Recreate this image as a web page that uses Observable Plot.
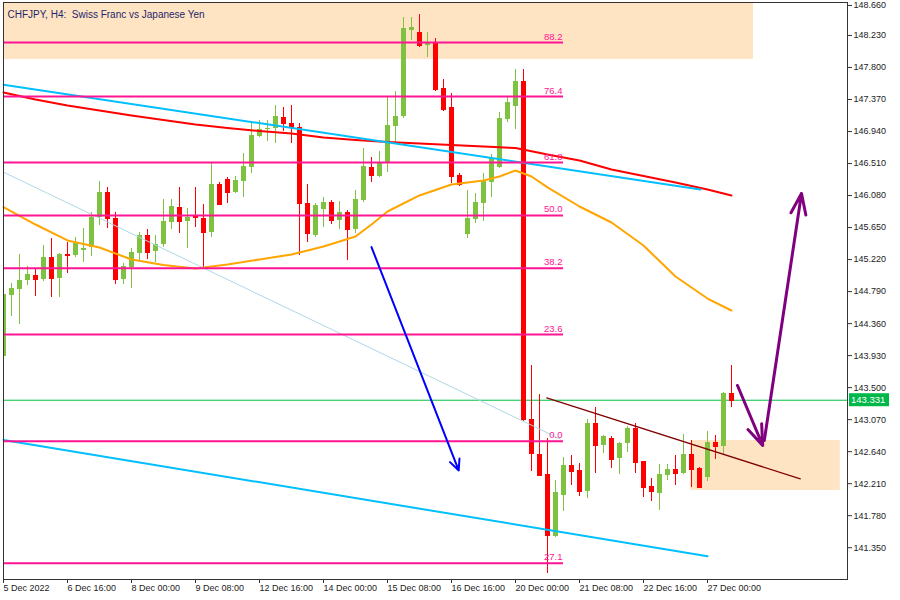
<!DOCTYPE html>
<html><head><meta charset="utf-8">
<script src="https://cdn.jsdelivr.net/npm/d3@7"></script>
<script src="https://cdn.jsdelivr.net/npm/@observablehq/plot@0.6"></script>
<style>
body{margin:0;background:#fff;}
#chart{width:900px;height:600px;}
</style></head><body><div id="chart"></div>
<script>
// ---- data (CHFJPY H4 bars, index 0 = 5 Dec 2022) ----
const opens = [143.918,144.742,144.818,144.939,145.006,144.952,145.252,144.970,145.288,145.275,
145.342,145.386,145.789,146.125,145.776,144.959,145.110,145.306,145.544,145.333,
145.423,145.722,145.924,145.736,145.795,145.768,145.588,146.229,146.296,146.125,
146.273,146.461,146.873,146.963,146.977,147.132,147.052,146.998,145.969,145.544,
145.893,145.991,145.745,145.856,145.624,146.014,146.461,146.336,146.507,147.008,
147.142,148.297,148.270,148.100,148.132,147.514,147.267,146.349,145.557,145.758,
145.977,146.259,146.453,147.102,147.280,147.616,143.068,142.602,142.333,141.500,
142.051,142.454,142.387,142.109,143.022,142.723,142.813,142.552,142.746,142.947,
142.508,142.172,142.082,142.320,142.400,142.351,142.602,142.418,142.289,142.767,
142.709,143.417];
const highs = [144.805,144.903,145.288,145.127,145.096,145.409,145.507,145.306,145.445,145.521,
145.634,145.856,146.273,146.192,145.856,145.167,145.365,145.588,145.624,145.544,
146.027,146.023,146.192,145.910,146.192,145.960,146.507,146.259,146.327,146.336,
146.641,147.052,147.088,147.088,147.290,147.267,147.290,147.044,146.224,145.977,
146.058,146.014,146.000,145.879,146.148,146.716,146.595,146.672,147.401,147.482,
148.476,148.476,148.512,148.274,148.186,147.639,147.455,146.380,146.148,146.112,
146.380,146.631,147.200,147.401,147.769,147.777,143.797,143.408,142.813,142.253,
142.558,142.588,142.485,143.068,143.229,142.857,142.844,142.767,142.978,143.022,
142.512,142.284,142.468,142.468,142.588,142.871,142.790,142.431,142.911,142.857,
143.439,143.797];
const lows = [143.905,144.456,144.348,144.872,144.724,144.930,144.715,144.715,145.029,145.252,
145.181,145.261,145.678,145.634,144.885,144.885,144.836,145.208,145.217,145.185,
145.378,145.620,145.566,145.373,145.647,145.096,145.521,145.946,145.969,146.112,
146.050,146.380,146.864,146.810,146.775,146.944,146.783,145.275,145.445,145.521,
145.655,145.691,145.624,145.208,145.566,145.991,146.259,146.323,146.394,146.797,
147.111,148.163,148.073,147.938,147.482,147.213,146.246,146.202,145.499,145.709,
145.736,146.058,146.439,147.065,146.967,143.045,142.378,142.306,141.008,141.487,
141.840,142.186,142.038,142.007,142.351,142.611,142.418,142.333,142.633,142.343,
142.028,141.975,141.850,142.253,142.186,142.333,142.155,142.149,142.239,142.531,
142.602,143.229];
const closes = [144.751,144.832,144.939,145.020,144.952,145.252,144.970,145.288,145.279,145.432,
145.365,145.789,146.125,145.768,144.959,145.127,145.319,145.544,145.319,145.419,
145.732,145.933,145.736,145.789,145.785,145.588,146.229,145.960,146.125,146.282,
146.470,146.887,146.963,146.985,147.142,147.052,146.990,145.969,145.566,145.946,
145.991,145.745,145.856,145.624,146.023,146.470,146.349,146.520,147.021,147.142,
148.320,148.333,148.096,148.118,147.501,147.236,146.336,146.229,145.776,145.991,
146.269,146.574,147.119,147.334,147.616,143.068,142.611,142.320,141.514,142.096,
142.454,142.378,142.109,143.022,142.723,142.844,142.535,142.754,142.947,142.498,
142.163,142.109,142.333,142.400,142.351,142.602,142.400,142.163,142.767,142.713,
143.425,143.331];

// moving averages
const redMaIdx = [0,4,8,12,16,20,24,28,32,36,40,44,48,52,56,60,64,68,72,76,80,84,88,91];
const redMaVal = [147.464,147.370,147.290,147.223,147.156,147.095,147.035,146.988,146.947,146.914,
146.860,146.826,146.800,146.780,146.759,146.739,146.719,146.632,146.551,146.430,146.343,146.256,146.162,146.081];
const orangeMaIdx = [0,4,8,12,16,20,24,28,32,36,40,44,46,48,52,56,60,62,64,66,68,72,76,80,84,88,91];
const orangeMaVal = [145.924,145.691,145.477,145.383,145.221,145.148,145.101,145.154,145.221,145.289,
145.396,145.530,145.691,145.866,146.081,146.229,146.283,146.336,146.417,146.336,146.189,145.933,145.718,
145.409,144.993,144.697,144.536];

// trend lines (bar index, price)
const cyanUpper = {x: [0, 87.1], y: [147.569, 146.162]};
const cyanLower = {x: [0, 88], y: [142.797, 141.236]};
const thinBlue  = {x: [0, 69.6], y: [146.394, 142.810]};
const maroonLine = {x: [67.9, 99.6], y: [143.363, 142.275]};

// fibonacci levels
const fibLabels = ["88.2","76.4","61.8","50.0","38.2","23.6","0.0","27.1"];
const fibPrices = [148.136,147.411,146.524,145.813,145.105,144.214,142.781,141.142];
const fibFrom = 0, fibTo = 70;

// zones
const zones = [
  {x1: -1, x2: 93.75, y1: 148.8, y2: 147.908},
  {x1: 85.9, x2: 104.6, y1: 142.790, y2: 142.119}
];

// arrows
const blueArrow = [{x1: 46, y1: 145.387, x2: 56.9, y2: 142.388}];
const purpleArrows = [
  {x1: 91.75, y1: 143.529, x2: 94.9, y2: 142.723},
  {x1: 95.1, y1: 142.79, x2: 99.75, y2: 146.108}
];

const lastPrice = 143.331;
const yTicks = [148.660,148.230,147.800,147.370,146.940,146.510,146.080,145.650,145.220,144.790,
144.360,143.930,143.500,143.070,142.640,142.210,141.780,141.350];
const xTickIdx = [0,8,16,24,32,40,48,56,64,72,80,88];
const xTickLabels = ["5 Dec 2022","6 Dec 16:00","8 Dec 00:00","9 Dec 08:00","12 Dec 16:00","14 Dec 00:00",
"15 Dec 08:00","16 Dec 16:00","20 Dec 00:00","21 Dec 08:00","22 Dec 16:00","27 Dec 00:00"];
const title = "CHFJPY, H4:\u00a0 Swiss Franc vs Japanese Yen";

// ---- build ----
const GREEN = "#7fc241", RED = "#ff0000", PINK = "#ff1493";
const FONT = "Liberation Sans, Arial, sans-serif";
const bars = opens.map((o, i) => ({i, o, h: highs[i], l: lows[i], c: closes[i], up: closes[i] >= o}));
const hw = 0.3125;
const toPts = (xs, ys) => xs.map((x, k) => ({x, y: ys[k]}));
const fmt = d3.format(".3f");

const chart = Plot.plot({
  width: 900, height: 600,
  marginTop: 2, marginRight: 53, marginBottom: 21, marginLeft: 3,
  style: {fontFamily: FONT, fontSize: "9px", color: "#222", background: "#fff"},
  x: {type: "linear", domain: [0, 105.5], axis: null},
  y: {type: "linear", domain: [140.923, 148.673], axis: null},
  marks: [
    Plot.rect(zones, {x1: "x1", x2: "x2", y1: "y1", y2: "y2", fill: "#ffe4c4", clip: true}),
    Plot.ruleY([lastPrice], {stroke: "#00c040", strokeWidth: 1}),
    Plot.ruleX(bars, {x: "i", y1: "l", y2: "h", stroke: d => d.up ? GREEN : RED, strokeWidth: 1, shapeRendering: "crispEdges", clip: true}),
    Plot.rect(bars, {x1: d => d.i - hw, x2: d => d.i + hw, y1: "o", y2: "c", fill: d => d.up ? GREEN : RED, shapeRendering: "crispEdges", clip: true}),
    Plot.ruleY(bars, {x1: d => d.i - hw, x2: d => d.i + hw, y: "c", stroke: d => d.up ? GREEN : RED, shapeRendering: "crispEdges", clip: true}),
    Plot.line(toPts(redMaIdx, redMaVal), {x: "x", y: "y", stroke: "#ff0000", strokeWidth: 2}),
    Plot.line(toPts(orangeMaIdx, orangeMaVal), {x: "x", y: "y", stroke: "#ffa500", strokeWidth: 2}),
    Plot.line(toPts(cyanUpper.x, cyanUpper.y), {x: "x", y: "y", stroke: "#00bfff", strokeWidth: 2}),
    Plot.line(toPts(cyanLower.x, cyanLower.y), {x: "x", y: "y", stroke: "#00bfff", strokeWidth: 2}),
    Plot.line(toPts(thinBlue.x, thinBlue.y), {x: "x", y: "y", stroke: "#add8e6", strokeWidth: 1}),
    Plot.line(toPts(maroonLine.x, maroonLine.y), {x: "x", y: "y", stroke: "#800000", strokeWidth: 1.2}),
    Plot.ruleY(fibPrices, {y: d => d, x1: () => fibFrom, x2: () => fibTo, stroke: PINK, strokeWidth: 2, clip: true}),
    Plot.text(fibPrices, {y: d => d, x: () => fibTo, text: (d, i) => fibLabels[i], textAnchor: "end", dx: -1, dy: -6, fill: PINK, fontSize: 9.5}),
    Plot.arrow(blueArrow, {x1: "x1", y1: "y1", x2: "x2", y2: "y2", stroke: "#0000ff", strokeWidth: 2, headLength: 9, headAngle: 50}),
    Plot.arrow(purpleArrows, {x1: "x1", y1: "y1", x2: "x2", y2: "y2", stroke: "#800080", strokeWidth: 3, headLength: 11, headAngle: 40}),
    Plot.text([title], {frameAnchor: "top-left", dx: 4, dy: 8, textAnchor: "start", fill: "#24246a", fontSize: 10}),
    Plot.axisY(yTicks.slice(0, 1), {anchor: "right", tickSize: 4, tickPadding: 2, tickFormat: fmt, fontSize: 9, dy: 2, stroke: "#333", fill: "#222"}),
    Plot.axisY(yTicks.slice(1), {anchor: "right", tickSize: 4, tickPadding: 2, tickFormat: fmt, fontSize: 9, stroke: "#333", fill: "#222"}),
    Plot.axisX(xTickIdx, {anchor: "bottom", tickSize: 4, tickPadding: 1, textAnchor: "start", tickFormat: d => xTickLabels[xTickIdx.indexOf(d)], fontSize: 9, stroke: "#333", fill: "#222"}),
    Plot.frame({stroke: "#333", strokeWidth: 1})
  ]
});
document.getElementById("chart").appendChild(chart);

// current price tag on the right axis
const yPx = chart.scale("y").apply(lastPrice);
const xPx = chart.scale("x").apply(105.5);
const g = d3.select(chart).append("g").attr("text-anchor", "start");
g.append("rect").attr("x", xPx + 2).attr("y", yPx - 6.5).attr("width", 40).attr("height", 13).attr("fill", "#00b84a");
g.append("text").attr("x", xPx + 4).attr("y", yPx).attr("dy", "0.35em").attr("fill", "#fff")
  .attr("text-anchor", "start").attr("font-size", 9.5).attr("font-family", FONT).text(fmt(lastPrice));
</script></body></html>
